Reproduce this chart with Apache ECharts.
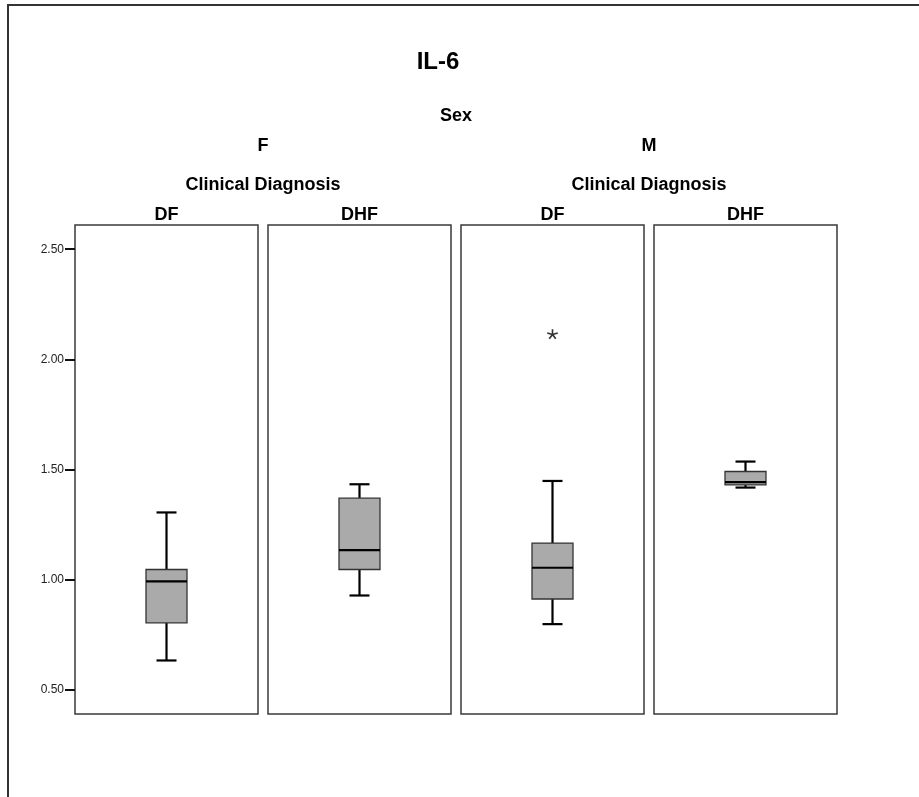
<!DOCTYPE html>
<html>
<head>
<meta charset="utf-8">
<script src="https://cdn.jsdelivr.net/npm/echarts@6/dist/echarts.min.js"></script>
<style>
html,body{margin:0;padding:0;background:#fff;}
#chart{width:919px;height:797px;}
</style>
</head>
<body>
<div id="chart"></div>
<script>
// ---- data ----
const chartTitle = 'IL-6';
const sexLabel = 'Sex';
const sexes = ['F', 'M'];
const diagnosisLabel = 'Clinical Diagnosis';
const diagnoses = ['DF', 'DHF'];
const lowWhisker  = [0.633, 0.928, 0.798, 1.418];
const q1          = [0.804, 1.046, 0.912, 1.430];
const median      = [0.992, 1.134, 1.054, 1.443];
const q3          = [1.046, 1.370, 1.166, 1.491];
const highWhisker = [1.305, 1.433, 1.448, 1.536];
const outliers    = [[], [], [2.114], []];
const yTicks = [0.5, 1.0, 1.5, 2.0, 2.5];
const yMin = 0.39, yMax = 2.61;

// ---- layout ----
const panelLefts = [75, 268, 461, 654];
const panelWidth = 183;
const panelTop = 225, panelHeight = 489;
const FONT = '"Liberation Sans", Arial, sans-serif';

// 5-arm asterisk path
function asteriskPath() {
  const hw = 0.15, parts = [];
  for (let k = 0; k < 5; k++) {
    const a = (k * 72) * Math.PI / 180;
    const dx = Math.sin(a), dy = -Math.cos(a);
    const px = -dy * hw, py = dx * hw;
    const p = [[px, py], [dx + px, dy + py], [dx - px, dy - py], [-px, -py]];
    parts.push('M' + p.map(q => (q[0] + 1).toFixed(3) + ' ' + (q[1] + 1).toFixed(3)).join(' L') + ' Z');
  }
  return 'path://' + parts.join(' ');
}

function renderBox(params, api) {
  const x = api.value(0);
  const lo = api.coord([x, api.value(1)]);
  const b1 = api.coord([x, api.value(2)]);
  const md = api.coord([x, api.value(3)]);
  const b3 = api.coord([x, api.value(4)]);
  const hi = api.coord([x, api.value(5)]);
  const cx = lo[0], bw = 41, cw = 20;
  const ws = {stroke: '#000', lineWidth: 2.2};
  return {
    type: 'group',
    children: [
      {type: 'line', shape: {x1: cx, y1: b3[1], x2: cx, y2: hi[1]}, style: ws},
      {type: 'line', shape: {x1: cx - cw / 2, y1: hi[1], x2: cx + cw / 2, y2: hi[1]}, style: ws},
      {type: 'line', shape: {x1: cx, y1: b1[1], x2: cx, y2: lo[1]}, style: ws},
      {type: 'line', shape: {x1: cx - cw / 2, y1: lo[1], x2: cx + cw / 2, y2: lo[1]}, style: ws},
      {type: 'rect', shape: {x: cx - bw / 2, y: b3[1], width: bw, height: b1[1] - b3[1]},
        style: {fill: '#aaaaaa', stroke: '#333', lineWidth: 1.3}},
      {type: 'line', shape: {x1: cx - bw / 2, y1: md[1], x2: cx + bw / 2, y2: md[1]}, style: ws}
    ]
  };
}

const grids = [], xAxes = [], yAxes = [], series = [];
panelLefts.forEach((left, i) => {
  grids.push({left: left, top: panelTop, width: panelWidth, height: panelHeight,
    show: true, borderColor: '#3a3a3a', borderWidth: 1.5, backgroundColor: 'transparent'});
  xAxes.push({gridIndex: i, type: 'category', data: [diagnoses[i % 2]], show: false});
  yAxes.push({gridIndex: i, type: 'value', min: yMin, max: yMax,
    show: i === 0,
    splitLine: {show: false},
    axisLine: {show: false},
    axisTick: {show: i === 0, length: 10, customValues: yTicks, lineStyle: {color: '#111', width: 2}},
    axisLabel: {show: i === 0, customValues: yTicks, margin: 11, color: '#222', fontSize: 12,
      fontFamily: FONT, formatter: v => v.toFixed(2)}
  });
  series.push({type: 'custom', xAxisIndex: i, yAxisIndex: i, renderItem: renderBox,
    silent: true,
    data: [[0, lowWhisker[i], q1[i], median[i], q3[i], highWhisker[i]]]});
  if (outliers[i].length) {
    series.push({type: 'scatter', xAxisIndex: i, yAxisIndex: i, silent: true,
      symbol: asteriskPath(), symbolSize: [11, 10], itemStyle: {color: '#000'},
      data: outliers[i].map(v => [0, v])});
  }
});

const bold = (size) => ({fontFamily: FONT, fontWeight: 'bold', fontSize: size, fill: '#000', align: 'center', verticalAlign: 'middle'});
const graphics = [
  {type: 'rect', shape: {x: 8, y: 5, width: 1200, height: 1200}, style: {fill: 'none', stroke: '#333', lineWidth: 2}, silent: true},
  {type: 'text', x: 438, y: 62, style: Object.assign({text: chartTitle}, bold(24))},
  {type: 'text', x: 456, y: 116, style: Object.assign({text: sexLabel}, bold(18))}
];
sexes.forEach((s, si) => {
  const c0 = panelLefts[si * 2] + panelWidth / 2, c1 = panelLefts[si * 2 + 1] + panelWidth / 2;
  const mid = (c0 + c1) / 2;
  graphics.push({type: 'text', x: mid, y: 146, style: Object.assign({text: s}, bold(18))});
  graphics.push({type: 'text', x: mid, y: 185, style: Object.assign({text: diagnosisLabel}, bold(18))});
  graphics.push({type: 'text', x: c0, y: 215, style: Object.assign({text: diagnoses[0]}, bold(18))});
  graphics.push({type: 'text', x: c1, y: 215, style: Object.assign({text: diagnoses[1]}, bold(18))});
});

const chart = echarts.init(document.getElementById('chart'), null, {renderer: 'canvas'});
chart.setOption({
  animation: false,
  backgroundColor: '#fff',
  grid: grids,
  xAxis: xAxes,
  yAxis: yAxes,
  series: series,
  graphic: graphics
});
</script>
</body>
</html>
